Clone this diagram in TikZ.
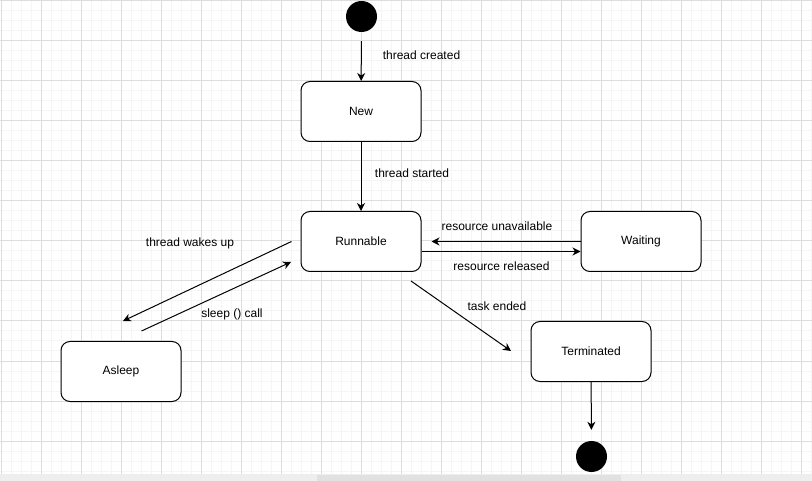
\documentclass[tikz,border=0pt]{standalone}
\usepackage{fontspec}
\setmainfont{Liberation Sans}
\usetikzlibrary{arrows.meta}
\definecolor{minorgrid}{HTML}{F5F5F5}
\definecolor{majorgrid}{HTML}{DDDDDD}
\definecolor{stripbg}{HTML}{EEEEEE}
\definecolor{stripthumb}{HTML}{E1E1E1}
\tikzset{
  statebox/.style={draw=black, line width=1pt, rounded corners=9pt, fill=white,
    minimum width=120pt, minimum height=60pt, inner sep=0pt, font=\fontsize{12pt}{14pt}\selectfont},
  pseudostate/.style={circle, fill=black, draw=none, minimum size=31pt, inner sep=0pt},
  lbl/.style={font=\fontsize{12pt}{14pt}\selectfont, inner sep=0pt},
  conn/.style={draw=black, line width=1pt, -{Stealth[length=8pt,width=8pt,inset=2.5pt]}},
}
\begin{document}
\begin{tikzpicture}[x=1pt,y=-1pt]
\useasboundingbox (0,0) rectangle (812,481);
\fill[white] (0,0) rectangle (812,481);
% grid
\foreach \gx in {1,11,...,811} \draw[minorgrid, line width=1pt] (\gx,0) -- (\gx,474);
\foreach \gy in {1,11,...,471} \draw[minorgrid, line width=1pt] (0,\gy) -- (812,\gy);
\foreach \gx in {1,41,...,801} \draw[majorgrid, line width=1pt] (\gx,0) -- (\gx,474);
\foreach \gy in {1,41,...,441} \draw[majorgrid, line width=1pt] (0,\gy) -- (812,\gy);
% bottom strip
\fill[stripbg] (0,474) rectangle (812,481);
\fill[stripthumb] (317,475) rectangle (621,481);

% states
\node[pseudostate] (start) at (361.5,16.5) {};
\node[statebox] (new) at (361,111.5) {New};
\node[statebox] (run) at (361,241.5) {Runnable};
\node[statebox] (wait) at (641,241.5) {Waiting};
\node[statebox] (asleep) at (121,371.5) {Asleep};
\node[statebox] (term) at (591,351.5) {Terminated};
\node[pseudostate] (end) at (591.5,456.5) {};

% free ends
\coordinate (wakeS) at (291.5,241.5);
\coordinate (wakeE) at (123,321);
\coordinate (sleepS) at (141.5,331);
\coordinate (sleepE) at (291,262);
\coordinate (taskS) at (411,281);
\coordinate (taskE) at (511,351);

% connectors
\draw[conn, shorten <=9pt] (start) -- (new);
\draw[conn] (new) -- (run);
\draw[conn, shorten >=10pt] (wait.west) -- (run.east);
\draw[conn] ([yshift=-10pt]run.east) -- ([yshift=-10pt]wait.west);
\draw[conn] (wakeS) -- (wakeE);
\draw[conn] (sleepS) -- (sleepE);
\draw[conn] (taskS) -- (taskE);
\draw[conn, shorten >=11pt] (term) -- (end);

% labels
\node[lbl] (lcreated) at (421.5,55.5) {thread created};
\node[lbl] (lstarted) at (412,173.5) {thread started};
\node[lbl] (lunavail) at (497,226.5) {resource unavailable};
\node[lbl] (lreleased) at (501.5,266.5) {resource released};
\node[lbl] (lwakes) at (190,243.5) {thread wakes up};
\node[lbl] (lsleep) at (232,314.5) {sleep () call};
\node[lbl] (lended) at (497,306.5) {task ended};
\end{tikzpicture}
\end{document}
